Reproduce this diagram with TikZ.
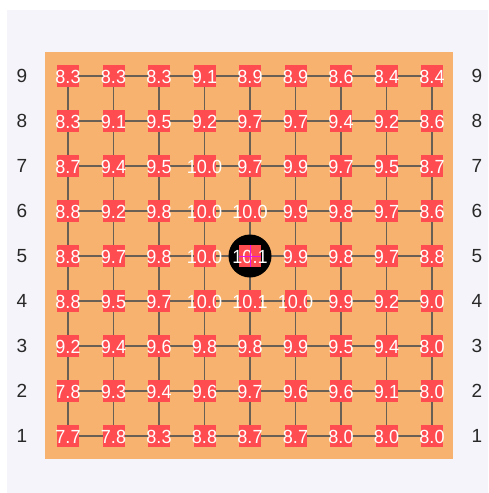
\documentclass[tikz,border=0pt]{standalone}
\usepackage{fontspec}
\setmainfont{Liberation Sans}
\definecolor{bgc}{RGB}{244,244,250}
\definecolor{boardc}{RGB}{246,178,110}
\definecolor{redc}{RGB}{255,76,80}
\definecolor{gridc}{RGB}{105,95,85}
\definecolor{axisc}{RGB}{40,40,40}
\definecolor{crossc}{RGB}{230,20,230}
\begin{document}
\begin{tikzpicture}[x=1pt,y=-1pt,
  gridline/.style={draw=gridc,line width=1.8pt},
  sq/.style={fill=redc,minimum size=22pt,inner sep=0pt,outer sep=0pt},
  val/.style={text=white,inner sep=0pt,font=\fontsize{19}{19}\selectfont,yshift=-1pt},
  axis/.style={text=axisc,inner sep=0pt,font=\fontsize{19}{19}\selectfont},
  crossline/.style={draw=crossc,line width=0.8pt}]
\useasboundingbox (0,0) rectangle (488,493);
\fill[white] (0,0) rectangle (488,493);
\fill[bgc] (7,10) rectangle (488,493);
\fill[boardc] (45,52) rectangle (453,459);
% grid coordinates
\foreach \i in {1,...,9}
  \foreach \r in {1,...,9}
    \coordinate (p\i-\r) at ({68+45.5*(\i-1)},{76+45*(9-\r)});
% grid lines
\foreach \r in {1,...,9}
  \draw[gridline] (p1-\r) -- (p9-\r);
\foreach \i in {1,...,9}
  \draw[gridline] (p\i-9) -- (p\i-1);
% axis labels
\foreach \c [count=\i] in {A,B,C,D,E,F,G,H,J} {
  \node[axis] (top\i) at ([yshift=-45pt]p\i-9) {\c};
  \node[axis] (bot\i) at ([yshift=48pt]p\i-1) {\c};
}
\foreach \r in {1,...,9} {
  \node[axis] (left\r) at ([xshift=-46pt]p1-\r) {\r};
  \node[axis] (right\r) at ([xshift=45pt]p9-\r) {\r};
}
% highlighted point
\fill[black] (p5-5) circle (21.5pt);
% values
\foreach \r/\vals in {
  9/{8.3,8.3,8.3,9.1,8.9,8.9,8.6,8.4,8.4},
  8/{8.3,9.1,9.5,9.2,9.7,9.7,9.4,9.2,8.6},
  7/{8.7,9.4,9.5,10.0,9.7,9.9,9.7,9.5,8.7},
  6/{8.8,9.2,9.8,10.0,10.0,9.9,9.8,9.7,8.6},
  5/{8.8,9.7,9.8,10.0,10.1,9.9,9.8,9.7,8.8},
  4/{8.8,9.5,9.7,10.0,10.1,10.0,9.9,9.2,9.0},
  3/{9.2,9.4,9.6,9.8,9.8,9.9,9.5,9.4,8.0},
  2/{7.8,9.3,9.4,9.6,9.7,9.6,9.6,9.1,8.0},
  1/{7.7,7.8,8.3,8.8,8.7,8.7,8.0,8.0,8.0}} {
  \foreach \v [count=\i] in \vals {
    \node[sq] (s\i-\r) at (p\i-\r) {};
    \node[val] (v\i-\r) at (p\i-\r) {\scalebox{0.95}[1]{\v}};
  }
}
% cross on highlighted point
\draw[crossline] (s5-5.west) -- (s5-5.east);
\draw[crossline] (s5-5.north) -- (s5-5.south);
\end{tikzpicture}
\end{document}
